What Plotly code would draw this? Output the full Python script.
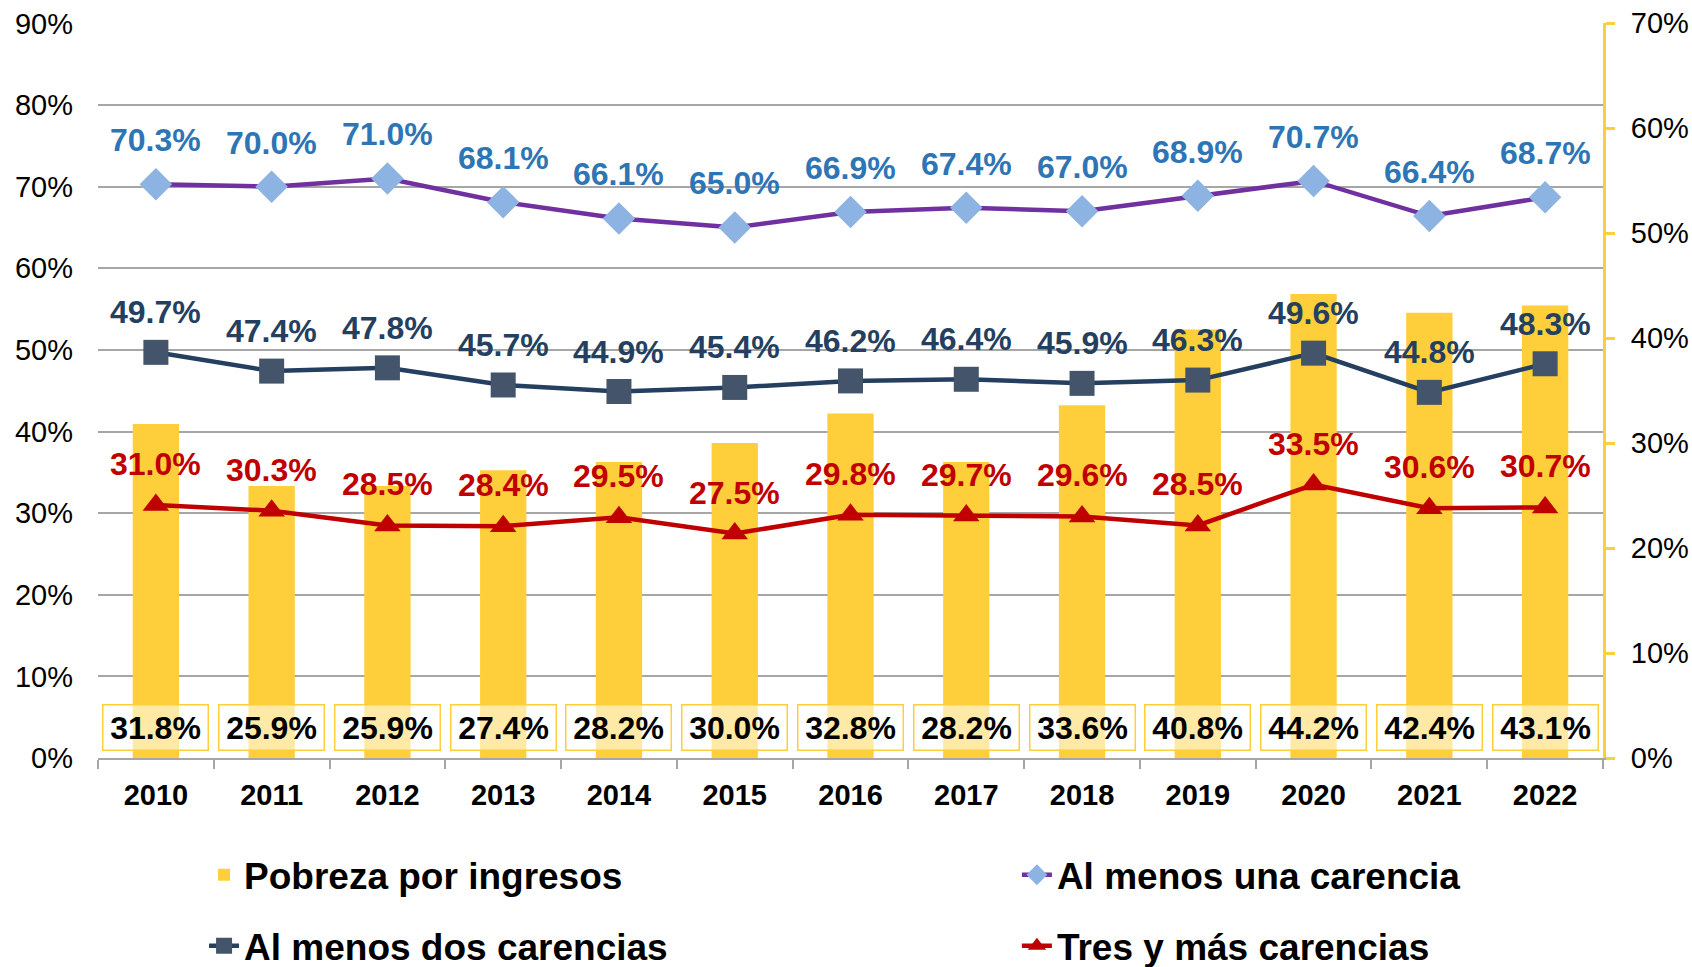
import plotly.graph_objects as go

years = ["2010", "2011", "2012", "2013", "2014", "2015", "2016",
         "2017", "2018", "2019", "2020", "2021", "2022"]
pobreza_ingresos = [31.8, 25.9, 25.9, 27.4, 28.2, 30.0, 32.8, 28.2, 33.6, 40.8, 44.2, 42.4, 43.1]
una_carencia = [70.3, 70.0, 71.0, 68.1, 66.1, 65.0, 66.9, 67.4, 67.0, 68.9, 70.7, 66.4, 68.7]
dos_carencias = [49.7, 47.4, 47.8, 45.7, 44.9, 45.4, 46.2, 46.4, 45.9, 46.3, 49.6, 44.8, 48.3]
tres_carencias = [31.0, 30.3, 28.5, 28.4, 29.5, 27.5, 29.8, 29.7, 29.6, 28.5, 33.5, 30.6, 30.7]

FONT = "Liberation Sans, Arial, sans-serif"
GOLD = "#FECF3B"
GRID = "#A6A6A6"

fig = go.Figure()

# bars on the primary (right-hand, 0-70%) axis so the lines draw above them
fig.add_trace(go.Bar(
    x=years, y=pobreza_ingresos, name="Pobreza por ingresos",
    marker=dict(color=GOLD, line=dict(width=0)), width=0.4,
    yaxis="y", legend="legend", legendgroup="a",
))

lines = [
    ("Al menos una carencia", una_carencia, "#7030A0", "#8DB3E2", "diamond", 25, "#2E75B6", 44, "legend2", "b"),
    ("Al menos dos carencias", dos_carencias, "#243F60", "#44546A", "square", 25, "#243F60", 40, "legend", "c"),
    ("Tres y más carencias", tres_carencias, "#C00000", "#C00000", "triangle-up", 23, "#C00000", 41, "legend2", "d"),
]

annotations = []
for name, vals, lc, mc, sym, ms, tc, shift, leg, grp in lines:
    fig.add_trace(go.Scatter(
        x=years, y=vals, name=name, mode="lines+markers",
        line=dict(color=lc, width=4.5),
        marker=dict(color=mc, symbol=sym, size=ms, line=dict(width=0)),
        yaxis="y2", legend=leg, legendgroup=grp, cliponaxis=False,
    ))
    # category index for x, so "2010" is not read as a numeric position
    for i, v in enumerate(vals):
        annotations.append(dict(
            x=i, y=v, xref="x", yref="y2", text=f"{v:.1f}%",
            showarrow=False, yshift=shift,
            font=dict(family=FONT, size=32, color=tc, weight="bold"),
        ))

for i, v in enumerate(pobreza_ingresos):
    annotations.append(dict(
        x=i, y=0.042, xref="x", yref="paper", yanchor="middle",
        text=f"{v:.1f}%", showarrow=False,
        width=98, height=38, borderpad=3, borderwidth=1.5,
        bordercolor=GOLD, bgcolor="rgba(255,255,255,0.55)",
        font=dict(family=FONT, size=32, color="black", weight="bold"),
    ))

legend_font = dict(family=FONT, size=37, weight="bold")

fig.update_layout(
    width=1692, height=967,
    margin=dict(l=98, r=89, t=23, b=209, autoexpand=False),
    plot_bgcolor="white", paper_bgcolor="white",
    font=dict(family=FONT, color="black"),
    showlegend=True,
    xaxis=dict(
        type="category", range=[-0.5, len(years) - 0.5], autorange=False,
        showgrid=False, showline=True, linecolor=GRID, linewidth=1.5,
        ticks="outside", tickson="boundaries", ticklen=9, tickcolor=GRID, tickwidth=1.5,
        tickfont=dict(family=FONT, size=29, weight="bold"), tickangle=0,
        ticklabelstandoff=10,
    ),
    yaxis=dict(
        side="right", range=[0, 70], dtick=10, ticksuffix="%",
        showgrid=False, zeroline=False, showline=True, linecolor=GOLD, linewidth=3,
        ticks="outside", ticklen=9, tickwidth=3, tickcolor=GOLD,
        tickfont=dict(family=FONT, size=29), ticklabelstandoff=10,
    ),
    yaxis2=dict(
        side="left", overlaying="y", range=[0, 90.05], tick0=0, dtick=10, ticksuffix="%",
        showgrid=True, gridcolor=GRID, gridwidth=1.5, zeroline=False, showline=False,
        tickfont=dict(family=FONT, size=29), ticklabelstandoff=24,
    ),
    legend=dict(
        xref="container", yref="container", x=0.1206, y=0.127,
        xanchor="left", yanchor="top", orientation="v",
        font=legend_font, tracegroupgap=20, bgcolor="rgba(0,0,0,0)",
    ),
    legend2=dict(
        xref="container", yref="container", x=0.601, y=0.127,
        xanchor="left", yanchor="top", orientation="v",
        font=legend_font, tracegroupgap=20, bgcolor="rgba(0,0,0,0)",
    ),
    annotations=annotations,
)

# drop the browser's default 8px body margin so the figure fills the window
fig.write_html("out.html", config={"displayModeBar": False},
               post_script="document.body.style.margin='0';")
